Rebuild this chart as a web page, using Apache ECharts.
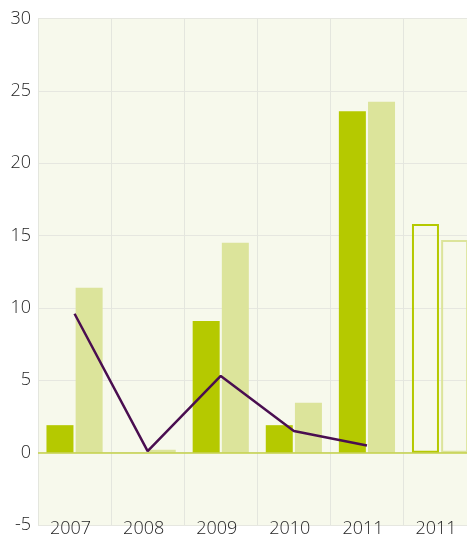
<!DOCTYPE html>
<html>
<head>
<meta charset="utf-8">
<script src="https://cdn.jsdelivr.net/npm/echarts@6/dist/echarts.min.js"></script>
<style>
html,body{margin:0;padding:0;background:#ffffff;overflow:hidden;width:467px;height:538px;}
#chart{width:477px;height:538px;}
</style>
</head>
<body>
<div id="chart"></div>
<script>
var categories = ['2007', '2008', '2009', '2010', '2011', '2011'];
var seriesA = [1.9, 0, 9.1, 1.9, 23.6, 15.8];
var seriesB = [11.4, 0.2, 14.5, 3.45, 24.25, 14.7];
var lineValues = [9.6, 0.1, 5.3, 1.5, 0.5, null];
var yTicks = [-5, 0, 5, 10, 15, 20, 25, 30];

var darkGreen = '#b5c900';
var lightGreen = '#dce49b';
var outlinedIndex = categories.length - 1;

function buildBars(values, color) {
  return values.map(function (v, i) {
    if (i === outlinedIndex) {
      return { value: v, itemStyle: { color: 'rgba(0,0,0,0)', borderColor: color, borderWidth: 2 } };
    }
    return v;
  });
}

var chart = echarts.init(document.getElementById('chart'), null, { renderer: 'canvas' });
var font = '"Open Sans", sans-serif';
chart.setOption({
  animation: false,
  backgroundColor: '#ffffff',
  grid: {
    left: 38, top: 18.6, right: 0.4, bottom: 12.6,
    show: true, backgroundColor: '#f7f9ec', borderWidth: 0
  },
  xAxis: {
    type: 'category',
    data: categories,
    boundaryGap: true,
    axisLine: { show: false, onZero: false },
    axisTick: { show: false },
    splitLine: { show: true, lineStyle: { color: '#e4e6de', width: 1 } },
    axisLabel: { color: '#262626', fontSize: 18, fontWeight: 300, fontFamily: font, margin: -5, padding: [0, 8, 0, 0], interval: 0 }
  },
  yAxis: {
    type: 'value',
    min: yTicks[0], max: yTicks[yTicks.length - 1], interval: 5,
    axisLine: { show: false },
    axisTick: { show: false },
    splitLine: { show: true, lineStyle: { color: '#e6e7e0', width: 1 } },
    axisLabel: { color: '#262626', fontSize: 18, fontWeight: 300, fontFamily: font, margin: 7, padding: [2, 0, 0, 0] }
  },
  series: [
    {
      type: 'bar',
      data: buildBars(seriesA, darkGreen),
      itemStyle: { color: darkGreen },
      barWidth: 27,
      barGap: '8%',
      markLine: {
        silent: true, symbol: 'none', label: { show: false },
        lineStyle: { color: '#c3d147', width: 1.5, type: 'solid' },
        data: [{ yAxis: 0 }]
      }
    },
    {
      type: 'bar',
      data: buildBars(seriesB, lightGreen),
      itemStyle: { color: lightGreen },
      barWidth: 27,
      barGap: '8%'
    },
    {
      type: 'line',
      data: lineValues,
      symbol: 'none',
      connectNulls: false,
      lineStyle: { color: '#4a0e50', width: 2.5 },
      z: 5
    }
  ]
});
</script>
</body>
</html>
